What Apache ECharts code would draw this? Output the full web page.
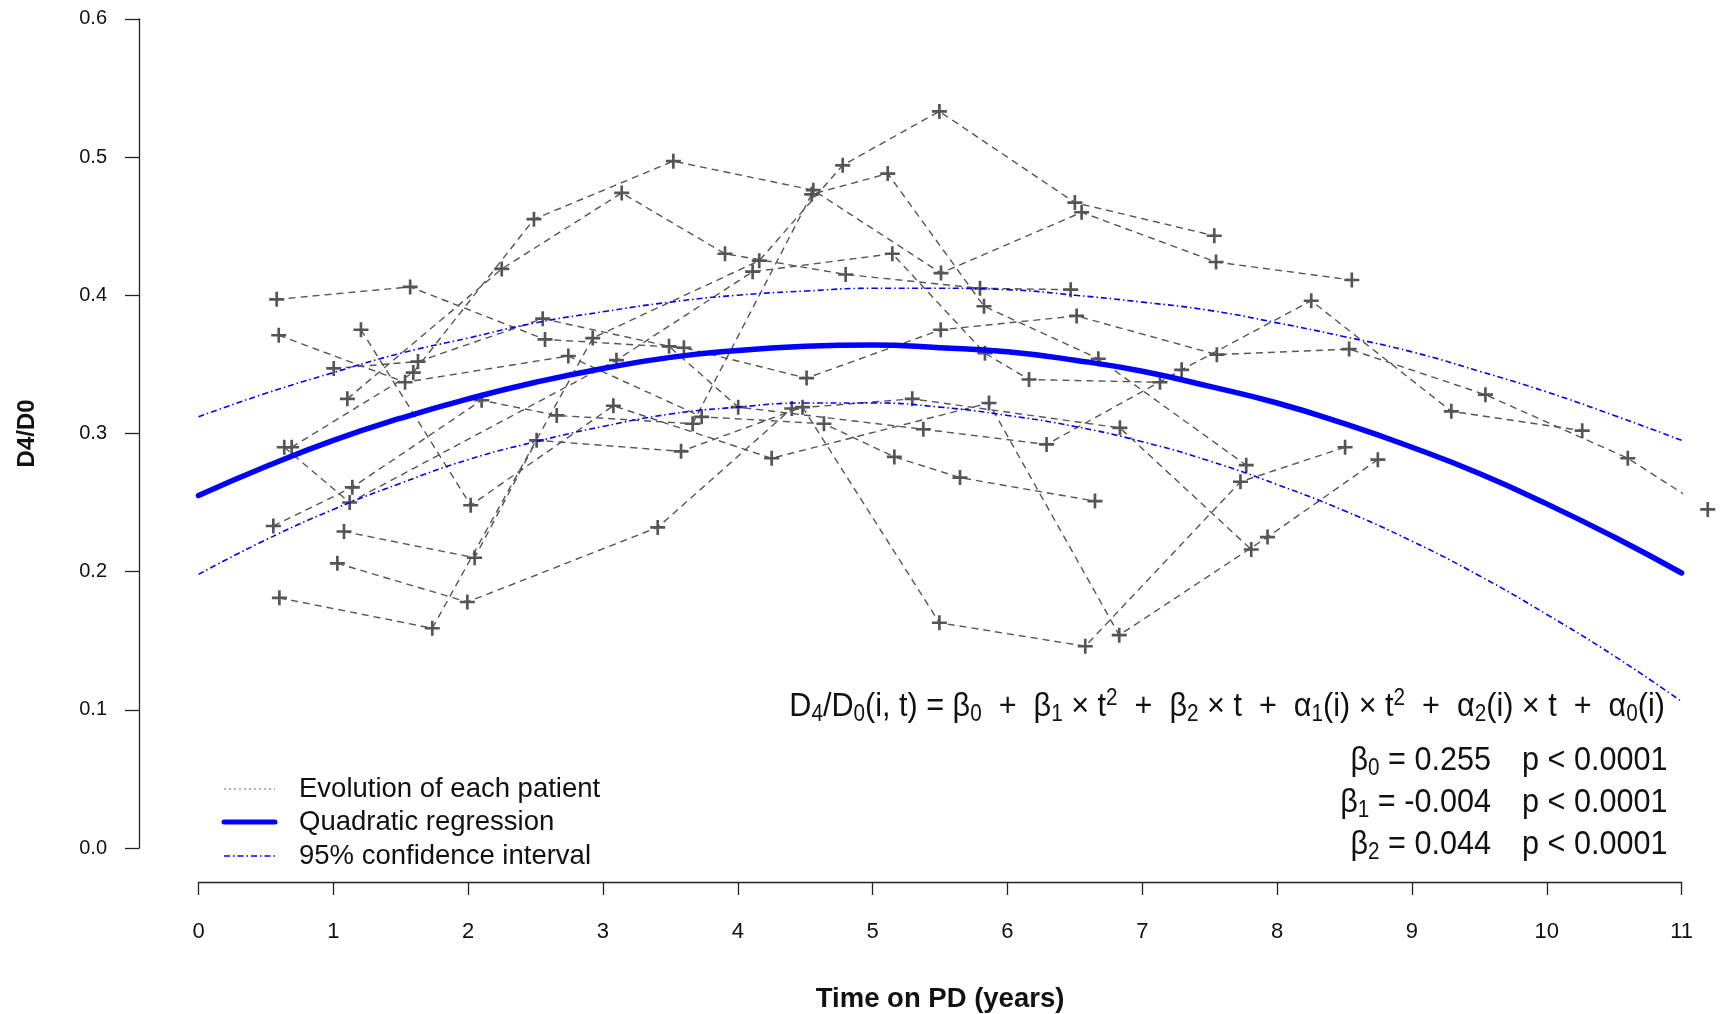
<!DOCTYPE html>
<html>
<head>
<meta charset="utf-8">
<title>D4/D0 over time on PD</title>
<script src="https://cdn.jsdelivr.net/npm/echarts@6.0.0/dist/echarts.min.js"></script>
<style>
  html, body { margin: 0; padding: 0; background: #fff; }
  #chart { width: 1729px; height: 1014px; }
</style>
</head>
<body>
<div id="chart"></div>
<script>
// x ticks (years on PD) and y ticks (D4/D0)
var xTicks = [0, 1, 2, 3, 4, 5, 6, 7, 8, 9, 10, 11]
var yTicks = [0, 0.1, 0.2, 0.3, 0.4, 0.5, 0.6]

// each patient: [time on PD, D4/D0]
var patient1 = [[0.58, 0.397], [1.57, 0.406], [2.57, 0.368], [3.60, 0.362], [4.51, 0.340], [5.505, 0.375], [6.513, 0.385], [7.553, 0.357], [8.534, 0.361], [9.545, 0.328], [10.601, 0.282], [11.194, 0.245]]
var patient2 = [[0.595, 0.371], [1.532, 0.337], [2.743, 0.356], [3.732, 0.312], [4.639, 0.307], [5.161, 0.283], [5.648, 0.268], [6.649, 0.251]]
var patient3 = [[0.60, 0.181], [1.734, 0.159], [2.924, 0.369], [4.159, 0.425], [4.778, 0.494], [5.495, 0.533], [6.50, 0.467], [7.534, 0.443]]
var patient4 = [[1.03, 0.206], [1.994, 0.178], [3.406, 0.232], [4.40, 0.318], [5.294, 0.325], [6.834, 0.304], [7.808, 0.216]]
var patient5 = [[0.555, 0.233], [1.141, 0.261], [2.10, 0.324], [2.657, 0.313], [3.665, 0.307], [4.548, 0.473], [5.112, 0.488], [5.826, 0.392], [6.674, 0.354], [7.771, 0.277]]
var patient6 = [[0.691, 0.290], [1.593, 0.344], [2.488, 0.455], [3.522, 0.497], [4.56, 0.476], [5.507, 0.416], [6.55, 0.460], [7.547, 0.424], [8.554, 0.411]]
var patient7 = [[1.003, 0.347], [1.628, 0.352], [2.553, 0.383], [3.49, 0.363], [4.003, 0.319], [5.376, 0.303], [6.29, 0.292], [7.292, 0.346], [8.253, 0.396], [9.292, 0.316], [10.263, 0.302]]
var patient8 = [[1.079, 0.229], [2.048, 0.210], [2.508, 0.295], [3.579, 0.287], [4.48, 0.319], [5.495, 0.163], [6.577, 0.146], [7.728, 0.265], [8.504, 0.290]]
var patient9 = [[0.636, 0.290], [1.121, 0.250], [3.10, 0.353], [4.11, 0.417], [5.146, 0.430], [5.833, 0.358], [6.16, 0.339], [7.131, 0.337]]
var patient10 = [[1.205, 0.375], [2.019, 0.248], [3.077, 0.320], [4.251, 0.282], [5.863, 0.322], [6.829, 0.154], [7.929, 0.225], [8.747, 0.281]]
var patient11 = [[1.104, 0.325], [2.249, 0.419], [3.139, 0.474], [3.905, 0.430], [4.80, 0.415], [5.796, 0.405], [6.469, 0.404]]
var patients = [patient1, patient2, patient3, patient4, patient5, patient6, patient7, patient8, patient9, patient10, patient11]

// fitted curve and its 95% band, read every half year
var curveT = [0, 0.5, 1, 1.5, 2, 2.5, 3, 3.5, 4, 4.5, 5, 5.5, 6, 6.5, 7, 7.5, 8, 8.5, 9, 9.5, 10, 10.5, 11]
var fitValues = [0.255, 0.276, 0.295, 0.311, 0.325, 0.337, 0.347, 0.355, 0.360, 0.363, 0.364, 0.362, 0.359, 0.353, 0.345, 0.334, 0.322, 0.307, 0.290, 0.271, 0.249, 0.225, 0.199]
var upperValues = [0.312, 0.329, 0.344, 0.358, 0.369, 0.380, 0.388, 0.395, 0.400, 0.403, 0.405, 0.405, 0.404, 0.400, 0.395, 0.389, 0.380, 0.370, 0.359, 0.345, 0.330, 0.313, 0.295]
var lowerValues = [0.198, 0.223, 0.245, 0.264, 0.281, 0.294, 0.305, 0.314, 0.319, 0.322, 0.322, 0.319, 0.313, 0.305, 0.294, 0.280, 0.263, 0.244, 0.222, 0.197, 0.169, 0.139, 0.106]

var coefNames = ['0', '1', '2']
var coefValues = ['0.255', '-0.004', '0.044']
var coefP = ['p < 0.0001', 'p < 0.0001', 'p < 0.0001']

var font = 'Liberation Sans, Arial, sans-serif'
var grey = '#555555'
var blue = '#0000ff'
var plus = 'path://M5.75,0h2.5v5.75h5.75v2.5h-5.75v5.75h-2.5v-5.75h-5.75v-2.5h5.75z'

function pairs(ts, vs) {
    return ts.map(function (t, i) { return [t, vs[i]] })
}

var series = patients.map(function (p) {
    return {
        name: 'Evolution of each patient',
        type: 'line',
        data: p,
        clip: false,
        symbol: plus,
        symbolSize: 15,
        itemStyle: { color: grey },
        lineStyle: { color: grey, width: 1.4, type: [7, 5] },
        z: 2
    }
})

series.push({
    name: '95% confidence interval',
    type: 'line',
    data: pairs(curveT, upperValues),
    smooth: true,
    symbol: 'none',
    lineStyle: { color: blue, width: 1.6, type: [6, 3, 1.5, 3] },
    z: 3
})
series.push({
    name: '95% confidence interval',
    type: 'line',
    data: pairs(curveT, lowerValues),
    smooth: true,
    symbol: 'none',
    lineStyle: { color: blue, width: 1.6, type: [6, 3, 1.5, 3] },
    z: 3
})
series.push({
    name: 'Quadratic regression',
    type: 'line',
    data: pairs(curveT, fitValues),
    smooth: true,
    symbol: 'none',
    lineStyle: { color: blue, width: 5.5, cap: 'round' },
    z: 4
})

// legend, drawn by hand like the R legend
var legendRows = [
    { label: 'Evolution of each patient', y: 789, line: { stroke: '#999999', lineWidth: 1.5, lineDash: [2, 3] } },
    { label: 'Quadratic regression', y: 822, line: { stroke: blue, lineWidth: 5, lineCap: 'round' } },
    { label: '95% confidence interval', y: 856, line: { stroke: blue, lineWidth: 1.5, lineDash: [6, 3, 1.5, 3] } }
]
var graphics = []
legendRows.forEach(function (r) {
    graphics.push({ type: 'line', shape: { x1: 224, y1: r.y, x2: 275, y2: r.y }, style: r.line })
    graphics.push({
        type: 'text', x: 299, y: r.y,
        style: { text: r.label, font: '27.5px ' + font, fill: '#111', verticalAlign: 'middle' }
    })
})

var richEq = {
    n: { fontSize: 34, fontFamily: font, fill: '#111', verticalAlign: 'middle' },
    s: { fontSize: 23, fontFamily: font, fill: '#111', padding: [15, 0, 0, 0] },
    u: { fontSize: 23, fontFamily: font, fill: '#111', padding: [0, 0, 17, 0] }
}
graphics.push({
    type: 'text', x: 1665, y: 707, scaleX: 0.9,
    style: {
        text: '{n|D}{s|4}{n|/D}{s|0}{n|(i, t) = β}{s|0}{n|  +  β}{s|1}{n| × t}{u|2}{n|  +  β}{s|2}{n| × t  +  α}{s|1}{n|(i) × t}{u|2}{n|  +  α}{s|2}{n|(i) × t  +  α}{s|0}{n|(i)}',
        rich: richEq, align: 'right', verticalAlign: 'middle'
    }
})
coefNames.forEach(function (c, i) {
    var y = 761 + i * 42
    graphics.push({
        type: 'text', x: 1491, y: y, scaleX: 0.9,
        style: {
            text: '{n|β}{s|' + c + '}{n| = ' + coefValues[i] + '}',
            rich: richEq, align: 'right', verticalAlign: 'middle'
        }
    })
    graphics.push({
        type: 'text', x: 1522, y: y, scaleX: 0.9,
        style: { text: '{n|' + coefP[i] + '}', rich: richEq, align: 'left', verticalAlign: 'middle' }
    })
})

var chart = echarts.init(document.getElementById('chart'), null, { renderer: 'canvas' })
chart.setOption({
    animation: false,
    backgroundColor: '#ffffff',
    grid: { left: 198.5, right: 47.4, top: 18.8, bottom: 166, outerBoundsMode: 'none' },
    xAxis: {
        type: 'value',
        min: xTicks[0],
        max: xTicks[xTicks.length - 1],
        interval: 1,
        offset: 34,
        name: 'Time on PD (years)',
        nameLocation: 'middle',
        nameGap: 103,
        nameTextStyle: { fontFamily: font, fontWeight: 'bold', fontSize: 27.5, color: '#111' },
        axisLine: { onZero: false, lineStyle: { color: '#222', width: 1.3 } },
        axisTick: { length: 13, lineStyle: { color: '#222', width: 1.3 } },
        axisLabel: { margin: 39, fontFamily: font, fontSize: 22, color: '#111' },
        splitLine: { show: false }
    },
    yAxis: {
        type: 'value',
        min: yTicks[0],
        max: yTicks[yTicks.length - 1],
        interval: 0.1,
        offset: 59.5,
        name: 'D4/D0',
        nameLocation: 'middle',
        nameGap: 100,
        nameTextStyle: { fontFamily: font, fontWeight: 'bold', fontSize: 24, color: '#111' },
        axisLine: { show: true, onZero: false, lineStyle: { color: '#222', width: 1.3 } },
        axisTick: { show: true, length: 14, lineStyle: { color: '#222', width: 1.3 } },
        axisLabel: {
            margin: 32, fontFamily: font, fontSize: 20, color: '#111',
            formatter: function (v) { return v.toFixed(1) }
        },
        splitLine: { show: false }
    },
    series: series,
    graphic: graphics
})
</script>
</body>
</html>
